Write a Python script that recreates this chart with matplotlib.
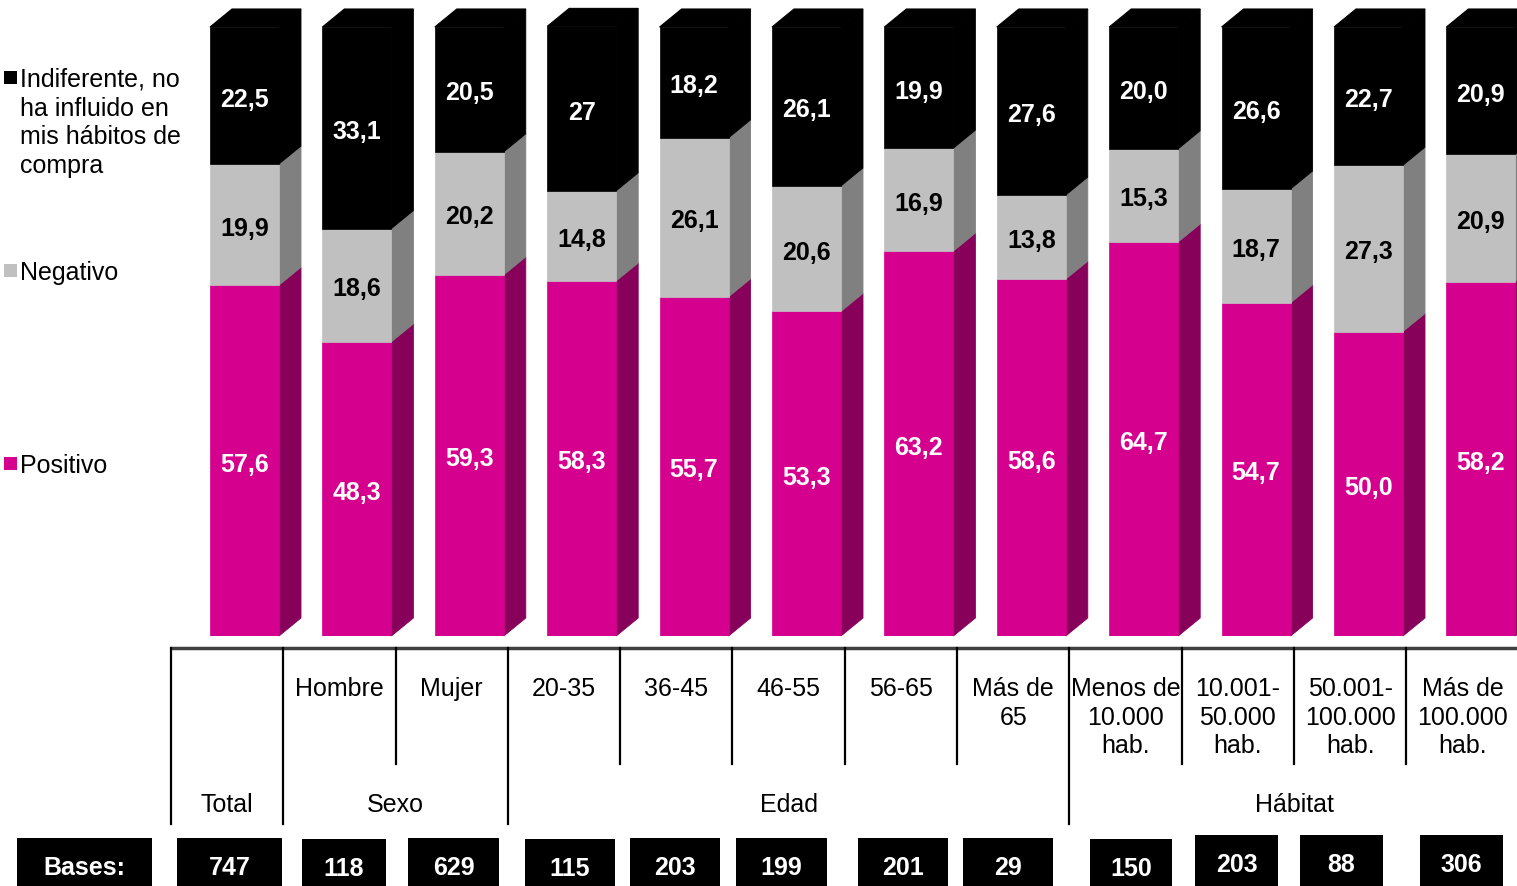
import matplotlib.pyplot as plt
from matplotlib.patches import Polygon, Rectangle

plt.rcParams['font.family'] = ['Liberation Sans', 'DejaVu Sans']

# Column labels under the bars and the groups they belong to
columns = ['', 'Hombre', 'Mujer', '20-35', '36-45', '46-55', '56-65',
           'Más de\n65', 'Menos de\n10.000\nhab.', '10.001-\n50.000\nhab.',
           '50.001-\n100.000\nhab.', 'Más de\n100.000\nhab.']
groups = ['Total', 'Sexo', 'Edad', 'Hábitat']
group_span = [(0, 1), (1, 3), (3, 8), (8, 12)]
bases = [747, 118, 629, 115, 203, 199, 201, 29, 150, 203, 88, 306]

# Percentages per column
positivo = [57.6, 48.3, 59.3, 58.3, 55.7, 53.3, 63.2, 58.6, 64.7, 54.7, 50.0, 58.2]
negativo = [19.9, 18.6, 20.2, 14.8, 26.1, 20.6, 16.9, 13.8, 15.3, 18.7, 27.3, 20.9]
indiferente = [22.5, 33.1, 20.5, 27.0, 18.2, 26.1, 19.9, 27.6, 20.0, 26.6, 22.7, 20.9]
indif_decimals = [1, 1, 1, 0, 1, 1, 1, 1, 1, 1, 1, 1]

series = [
    ('Positivo', positivo, '#D6008F', '#87005A', 'white'),
    ('Negativo', negativo, '#C0C0C0', '#808080', 'black'),
    ('Indiferente, no\nha influido en\nmis hábitos de\ncompra', indiferente, '#000000', '#000000', 'white'),
]

W, H = 1517, 887
fig = plt.figure(figsize=(W / 100, H / 100), dpi=100)

# bar area: y=0 at 637px, y=100 at 28px from the top
px0, px100 = 637, 28
pitch, cx0 = 112.4, 244.5
ax = fig.add_axes([0, (H - px0) / H, 1, (px0 - px100) / H])
ax.set_xlim(-cx0 / pitch, (W - cx0) / pitch)
ax.set_ylim(0, 100)
ax.axis('off')

bw = 69 / pitch
dx = 22 / pitch
dy = 18 / (px0 - px100) * 100
txt_shift = 3 / (px0 - px100) * 100  # nudge labels a few pixels down


def fmt(v, d=1):
    return f'{v:.{d}f}'.replace('.', ',')


xs = list(range(len(positivo)))
bottoms = [0.0] * len(xs)
for si, (name, vals, face, side, tcol) in enumerate(series):
    # thin edges in the face colour hide antialiasing seams between faces
    ax.bar(xs, vals, width=bw, bottom=bottoms, color=face, edgecolor=face,
           linewidth=0.5, zorder=2)
    for i, v in enumerate(vals):
        b = bottoms[i]
        xr = i + bw / 2
        ax.add_patch(Polygon([(xr, b), (xr + dx, b + dy), (xr + dx, b + v + dy), (xr, b + v)],
                             closed=True, facecolor=side, edgecolor=side, linewidth=0.6,
                             zorder=1, clip_on=False))
        if si == len(series) - 1:
            xl = i - bw / 2
            top = b + v
            ax.add_patch(Polygon([(xl, top), (xl + dx, top + dy), (xr + dx, top + dy), (xr, top)],
                                 closed=True, facecolor=face, edgecolor=face, linewidth=0.8,
                                 zorder=1, clip_on=False))
            label = fmt(v, indif_decimals[i])
        else:
            label = fmt(v)
        ax.text(i, b + v / 2 - txt_shift, label, ha='center', va='center', color=tcol,
                fontsize=18, fontweight='bold', zorder=3)
    bottoms = [bottoms[i] + vals[i] for i in xs]

# overlay in pixel units for legend and table
ov = fig.add_axes([0, 0, 1, 1])
ov.set_xlim(0, W)
ov.set_ylim(H, 0)
ov.axis('off')

# legend
legend_y = [464, 271, 78]
for (name, vals, face, side, tcol), ly in zip(series, legend_y):
    ov.add_patch(Rectangle((4, ly - 6.5), 13, 13, facecolor=face, edgecolor='none'))
    for k, line in enumerate(name.split('\n')):
        ov.text(20, ly + 2 + k * 28.7, line, ha='left', va='center', fontsize=18)

# table under the bars
tx0, tpitch = 171, 112.3
ov.plot([170, W], [649, 649], color='#404040', lw=2.5, solid_capstyle='butt')
long_lines = [s for s, e in group_span]
for k in range(len(columns)):
    x = tx0 + k * tpitch
    y_end = 825 if k in long_lines else 765
    ov.plot([x, x], [649, y_end], color='black', lw=1.6)

for k, lab in enumerate(columns):
    cx = tx0 + (k + 0.5) * tpitch
    for j, line in enumerate(lab.split('\n')):
        ov.text(cx, 689 + j * 28.7, line, ha='center', va='center', fontsize=18)

for g, (s, e) in zip(groups, group_span):
    cx = tx0 + (s + e) / 2 * tpitch
    ov.text(cx, 805, g, ha='center', va='center', fontsize=18)

# bases row
box_l = [177, 302, 408, 525, 630, 736, 858, 963, 1090, 1195, 1300, 1420]
box_r = [282, 386, 499, 615, 720, 827, 948, 1053, 1172, 1278, 1383, 1503]
box_t = [839, 840, 839, 840, 839, 839, 839, 839, 840, 836, 836, 836]
ov.add_patch(Rectangle((17, 839), 135, 60, facecolor='black', edgecolor='none'))
ov.text(84.5, 868, 'Bases:', ha='center', va='center', color='white',
        fontsize=18, fontweight='bold')
for n, l, r, t in zip(bases, box_l, box_r, box_t):
    ov.add_patch(Rectangle((l, t), r - l, 60, facecolor='black', edgecolor='none'))
    ov.text((l + r) / 2, t + 29, str(n), ha='center', va='center', color='white',
            fontsize=18, fontweight='bold')

fig.savefig('out.png', dpi=100)
